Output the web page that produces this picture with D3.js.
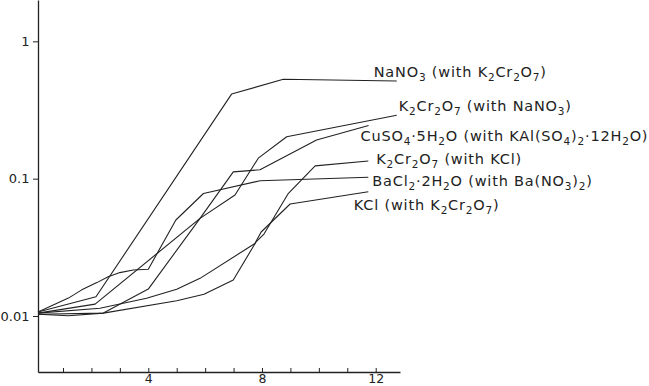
<!DOCTYPE html>
<html><head><meta charset="utf-8">
<script src="https://cdn.jsdelivr.net/npm/d3@7"></script>
<style>body{margin:0;background:#fff}svg{display:block}</style>
</head><body>
<script>
// ---- data ----
const xTicks = [1,2,3,4,5,6,7,8,9,10,11,12];
const xTickLabels = [4, 8, 12];
const yTicks = [1, 0.1, 0.01];
const yTickLabels = ["1", "0.1", "0.01"];

const seriesLabels = [
  "NaNO_3 (with K_2Cr_2O_7)",
  "K_2Cr_2O_7 (with NaNO_3)",
  "CuSO_4·5H_2O (with KAl(SO_4)_2·12H_2O)",
  "K_2Cr_2O_7 (with KCl)",
  "BaCl_2·2H_2O (with Ba(NO_3)_2)",
  "KCl (with K_2Cr_2O_7)"
];

const nano3X = [0.12, 2.16, 6.93, 8.75, 12.74];
const nano3Y = [0.0107, 0.0138, 0.413, 0.529, 0.514];

const k2cr2o7NaX = [0.12, 2.13, 5.82, 7.05, 7.87, 8.87, 12.74];
const k2cr2o7NaY = [0.0105, 0.0122, 0.0514, 0.076, 0.141, 0.202, 0.29];

const cuso4X = [0.12, 1.19, 2.42, 4.0, 5.82, 6.99, 7.93, 9.92, 11.75];
const cuso4Y = [0.0103, 0.01005, 0.0105, 0.0157, 0.0514, 0.112, 0.116, 0.191, 0.244];

const k2cr2o7KClX = [0.12, 2.42, 5.0, 5.96, 6.99, 7.79, 8.07, 8.93, 9.87, 11.74];
const k2cr2o7KClY = [0.0103, 0.0105, 0.0129, 0.0144, 0.0183, 0.0346, 0.0395, 0.0782, 0.124, 0.1345];

const bacl2X = [0.12, 1.19, 1.66, 2.19, 2.59, 3.0, 3.47, 4.0, 4.97, 5.94, 7.93, 11.74];
const bacl2Y = [0.0107, 0.0135, 0.0155, 0.0175, 0.0193, 0.0207, 0.0216, 0.0219, 0.050, 0.078, 0.0966, 0.1023];

const kclX = [0.12, 2.3, 3.94, 5.0, 5.82, 7.75, 7.97, 8.99, 11.74];
const kclY = [0.0105, 0.0114, 0.01345, 0.01565, 0.0188, 0.0337, 0.0409, 0.0654, 0.0804];

// ---- layout ----
const W = 649, H = 386;
const labelOffsets = [[-23,-4],[2,-4.5],[-8,15.5],[8,3],[4,8.7],[-14.5,18.3]];

const seriesX = [nano3X, k2cr2o7NaX, cuso4X, k2cr2o7KClX, bacl2X, kclX];
const seriesY = [nano3Y, k2cr2o7NaY, cuso4Y, k2cr2o7KClY, bacl2Y, kclY];
const series = seriesX.map((xs, i) => ({
  label: seriesLabels[i],
  pts: xs.map((xv, j) => [xv, seriesY[i][j]])
}));

const svg = d3.select("body").append("svg").attr("width", W).attr("height", H)
  .style("font-family", "'DejaVu Sans', sans-serif");
svg.append("rect").attr("width", W).attr("height", H).attr("fill", "#fff");

const x = d3.scaleLinear().domain([0.12, 12.855]).range([38, 400]);
const y = d3.scaleLog().domain([0.00391, 2.0]).range([372, 0]);

const ink = "#222";

// axes
const gx = svg.append("g").attr("transform", "translate(0,372)")
  .call(d3.axisBottom(x).tickValues(xTicks).tickSize(-4).tickSizeOuter(0).tickPadding(2.5)
    .tickFormat(d => xTickLabels.includes(d) ? String(d) : ""));
const gy = svg.append("g").attr("transform", "translate(38,0)")
  .call(d3.axisLeft(y).tickValues(yTicks).tickSize(5).tickSizeOuter(0).tickPadding(3.5)
    .tickFormat((d, i) => yTickLabels[yTicks.indexOf(d)]));
[gx, gy].forEach(g => {
  g.selectAll("path.domain").attr("stroke", ink).attr("stroke-width", 1.3);
  g.selectAll(".tick line").attr("stroke", ink).attr("stroke-width", 1);
  g.selectAll(".tick text").attr("fill", ink).style("font-size", "13px")
    .style("font-family", "'DejaVu Sans', sans-serif");
});
gx.selectAll(".tick text").style("font-size", "12.5px");

// lines
const line = d3.line().x(d => x(d[0])).y(d => y(d[1]));
svg.append("g").selectAll("path").data(series).join("path")
  .attr("d", d => line(d.pts))
  .attr("fill", "none").attr("stroke", ink).attr("stroke-width", 1.1)
  .attr("stroke-linejoin", "round");

// labels with subscripts
series.forEach((s, i) => {
  const last = s.pts[s.pts.length - 1];
  const t = svg.append("text")
    .attr("x", x(last[0]) + labelOffsets[i][0])
    .attr("y", y(last[1]) + labelOffsets[i][1])
    .attr("fill", ink)
    .style("font-size", "14.5px")
    .style("letter-spacing", "0.8px");
  const parts = s.label.split(/(_\d+)/).filter(p => p.length);
  let sub = false;
  parts.forEach(p => {
    if (p.startsWith("_")) {
      t.append("tspan").attr("dy", sub ? 0 : 4).style("font-size", "10.5px").text(p.slice(1));
      sub = true;
    } else {
      t.append("tspan").attr("dy", sub ? -4 : 0).text(p);
      sub = false;
    }
  });
});
</script>
</body></html>
